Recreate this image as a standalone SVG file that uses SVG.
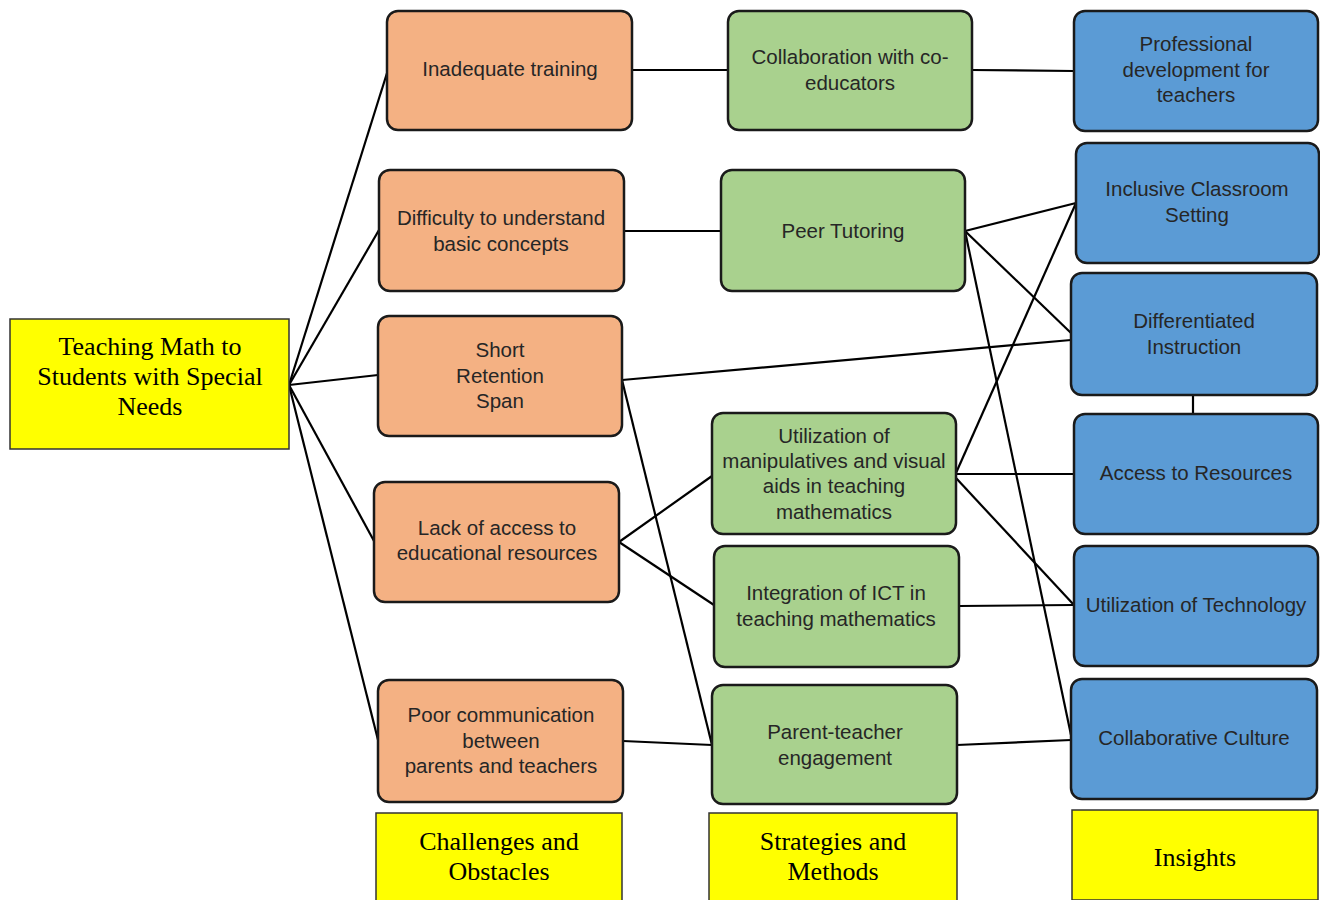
<svg xmlns="http://www.w3.org/2000/svg" width="1320" height="900" viewBox="0 0 1320 900">
<style>
.o{fill:#F4B183;stroke:#1a1a1a;stroke-width:2.5}
.g{fill:#A9D18E;stroke:#1a1a1a;stroke-width:2.5}
.b{fill:#5B9BD5;stroke:#1a1a1a;stroke-width:2.5}
.y{fill:#FFFF00;stroke:#333;stroke-width:1.5}
.t{font-family:"Liberation Sans",Arial,sans-serif;font-size:20.5px;fill:#262626;text-anchor:middle}
.s{font-family:"Liberation Serif","Times New Roman",serif;font-size:26px;fill:#000;text-anchor:middle}
.c line{stroke:#000;stroke-width:2.2}
</style>
<rect width="1320" height="900" fill="#fff"/>
<g class="c" id="connectors">
<line x1="289" y1="385" x2="387" y2="73"/>
<line x1="289" y1="385" x2="379" y2="230"/>
<line x1="289" y1="385" x2="378" y2="375"/>
<line x1="289" y1="385" x2="374" y2="541"/>
<line x1="289" y1="385" x2="378" y2="740"/>
<line x1="632" y1="70" x2="728" y2="70"/>
<line x1="624" y1="231" x2="721" y2="231"/>
<line x1="622" y1="380" x2="1071" y2="340"/>
<line x1="622" y1="380" x2="712" y2="745"/>
<line x1="619" y1="542" x2="712" y2="476"/>
<line x1="619" y1="542" x2="714" y2="605"/>
<line x1="623" y1="741" x2="712" y2="745"/>
<line x1="972" y1="70" x2="1074" y2="71"/>
<line x1="965" y1="231" x2="1076" y2="203"/>
<line x1="965" y1="231" x2="1071" y2="333"/>
<line x1="965" y1="231" x2="1071" y2="735"/>
<line x1="956" y1="473" x2="1076" y2="203"/>
<line x1="956" y1="474" x2="1074" y2="474"/>
<line x1="956" y1="478" x2="1074" y2="605"/>
<line x1="959" y1="606" x2="1074" y2="605"/>
<line x1="957" y1="745" x2="1071" y2="740"/>
<line x1="1193" y1="395" x2="1193" y2="414"/>
</g>
<g id="main"><rect class="y" x="10" y="319" width="279" height="130"/>
<text class="s" x="150" y="355">Teaching Math to</text><text class="s" x="150" y="385">Students with Special</text><text class="s" x="150" y="415">Needs</text></g>
<g id="c1"><rect class="o" x="387" y="11" width="245" height="119" rx="11"/><text class="t" x="510" y="76">Inadequate training</text></g>
<g id="c2"><rect class="o" x="379" y="170" width="245" height="121" rx="11"/><text class="t" x="501" y="225">Difficulty to understand</text><text class="t" x="501" y="251">basic concepts</text></g>
<g id="c3"><rect class="o" x="378" y="316" width="244" height="120" rx="11"/><text class="t" x="500" y="357">Short</text><text class="t" x="500" y="383">Retention</text><text class="t" x="500" y="408">Span</text></g>
<g id="c4"><rect class="o" x="374" y="482" width="245" height="120" rx="11"/><text class="t" x="497" y="535">Lack of access to</text><text class="t" x="497" y="560">educational resources</text></g>
<g id="c5"><rect class="o" x="378" y="680" width="245" height="122" rx="11"/><text class="t" x="501" y="722">Poor communication</text><text class="t" x="501" y="748">between</text><text class="t" x="501" y="773">parents and teachers</text></g>
<g id="s1"><rect class="g" x="728" y="11" width="244" height="119" rx="11"/><text class="t" x="850" y="64">Collaboration with co-</text><text class="t" x="850" y="90">educators</text></g>
<g id="s2"><rect class="g" x="721" y="170" width="244" height="121" rx="11"/><text class="t" x="843" y="238">Peer Tutoring</text></g>
<g id="s3"><rect class="g" x="712" y="413" width="244" height="121" rx="11"/><text class="t" x="834" y="443">Utilization of</text><text class="t" x="834" y="468">manipulatives and visual</text><text class="t" x="834" y="493">aids in teaching</text><text class="t" x="834" y="519">mathematics</text></g>
<g id="s4"><rect class="g" x="714" y="546" width="245" height="121" rx="11"/><text class="t" x="836" y="600">Integration of ICT in</text><text class="t" x="836" y="626">teaching mathematics</text></g>
<g id="s5"><rect class="g" x="712" y="685" width="245" height="119" rx="11"/><text class="t" x="835" y="739">Parent-teacher</text><text class="t" x="835" y="765">engagement</text></g>
<g id="i1"><rect class="b" x="1074" y="11" width="244" height="120" rx="11"/><text class="t" x="1196" y="51">Professional</text><text class="t" x="1196" y="77">development for</text><text class="t" x="1196" y="102">teachers</text></g>
<g id="i2"><rect class="b" x="1076" y="143" width="243" height="120" rx="11"/><text class="t" x="1197" y="196">Inclusive Classroom</text><text class="t" x="1197" y="222">Setting</text></g>
<g id="i3"><rect class="b" x="1071" y="273" width="246" height="122" rx="11"/><text class="t" x="1194" y="328">Differentiated</text><text class="t" x="1194" y="354">Instruction</text></g>
<g id="i4"><rect class="b" x="1074" y="414" width="244" height="120" rx="11"/><text class="t" x="1196" y="480">Access to Resources</text></g>
<g id="i5"><rect class="b" x="1074" y="546" width="244" height="120" rx="11"/><text class="t" x="1196" y="612">Utilization of Technology</text></g>
<g id="i6"><rect class="b" x="1071" y="679" width="246" height="120" rx="11"/><text class="t" x="1194" y="745">Collaborative Culture</text></g>
<g id="l1"><rect class="y" x="376" y="813" width="246" height="88"/><text class="s" x="499" y="850">Challenges and</text><text class="s" x="499" y="880">Obstacles</text></g>
<g id="l2"><rect class="y" x="709" y="813" width="248" height="88"/><text class="s" x="833" y="850">Strategies and</text><text class="s" x="833" y="880">Methods</text></g>
<g id="l3"><rect class="y" x="1072" y="810" width="246" height="90"/><text class="s" x="1195" y="866">Insights</text></g>
</svg>
